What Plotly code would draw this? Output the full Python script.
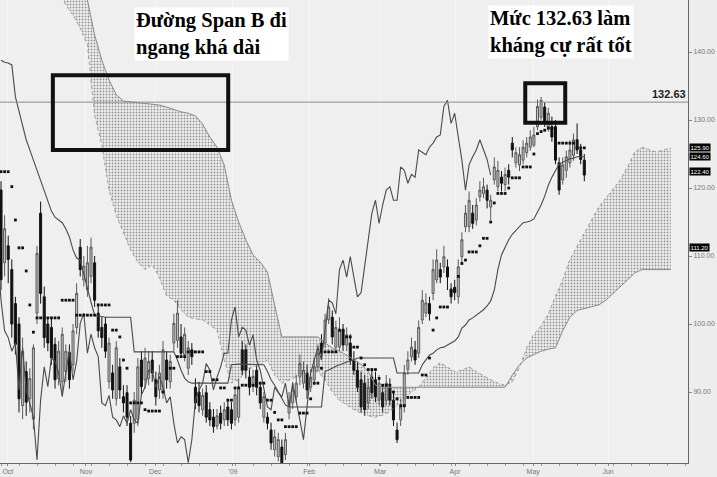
import plotly.graph_objects as go

# ---------------- data ----------------
# candle index 0 = last days of Sep 2008, one step per trading day
month_ticks = [1.9, 23.6, 42.8, 64.4, 85.6, 105.3, 126.1, 147.8, 168.6]
month_labels = ["Oct", "Nov", "Dec", "'09", "Feb", "Mar", "Apr", "May", "Jun"]
price_ticks = [90, 100, 110, 120, 130, 140]

opens = [119.7, 109, 111.5, 108, 103, 100, 88, 93, 89, 86,
         101.6, 116.3, 104, 100, 99.5, 97, 92, 91.5, 93, 95.8,
         94, 99.5, 111.3, 106.5, 105, 107, 109, 101.6, 99.5, 100,
         91.5, 92.8, 89, 93.7, 89.3, 89.9, 85.4, 85.4, 86, 94.7,
         91.8, 92, 94.7, 91.8, 90.3, 89.9, 94.7, 91.5, 97.2, 97.6,
         98.1, 95.5, 93.5, 96.2, 90.7, 90, 87.4, 89.9, 87.4, 86.3,
         85, 86.9, 85.9, 87.8, 87.4, 85.9, 86.3, 96.2, 96.2, 92.2,
         90.8, 93.2, 90.7, 86.3, 86.3, 84.4, 81.5, 80.5, 81.9, 80.8,
         86.9, 88.4, 89.3, 92.2, 91.3, 92.8, 90.7, 91.8, 93.7, 97.2,
         97.2, 100.6, 101, 96.6, 96.6, 99.1, 96.9, 97.2, 94.7, 93.2,
         91.8, 91.3, 88.4, 92.2, 91.8, 88.8, 89.9, 88.8, 90.7, 88.8,
         84.4, 85.9, 87.8, 93.3, 95.2, 96.2, 95.7, 100.6, 101.6, 103,
         104.5, 106.5, 108, 108.4, 108.4, 105, 105.4, 104, 109.9, 114.3,
         114.3, 116.3, 115.3, 118.7, 119.2, 119.7, 117.2, 121.2, 120.2, 121.6,
         120.5, 122.6, 126.6, 123.7, 123.4, 124.1, 125.2, 126, 126.3, 129,
         130.4, 131.9, 129, 129, 129, 123.7, 121.2, 122.6, 123.7, 124.8,
         127.1, 125.6, 124.1]
highs = [121, 116, 113, 109.5, 104, 101, 98, 94.5, 93.5, 97,
         111.5, 118, 105.5, 101, 101, 98, 97.5, 99.5, 97, 97,
         100, 106, 112.5, 110, 111.5, 112.7, 110, 103, 101, 101,
         98, 94, 97.5, 95, 91, 91, 86.5, 90, 95, 96,
         96.5, 96, 96, 93, 94, 97.5, 96, 95.5, 101.5, 103.5,
         100, 99.5, 97.5, 97.2, 92, 91.5, 90.5, 91, 88.5, 87.5,
         87.5, 88, 88.5, 89, 88.5, 90.5, 92, 97.5, 97, 93.5,
         93.3, 94, 91.5, 90, 87, 85.5, 84.5, 84, 83, 84,
         90, 91.5, 92.5, 95.5, 94.5, 94, 93.3, 95, 97, 98.5,
         101.5, 103.8, 102, 100.5, 101, 100, 99.5, 98.5, 96, 94.5,
         93, 92.5, 92, 93.5, 93, 92.5, 91, 92.5, 92, 90,
         85.5, 89, 94, 96, 98, 97.5, 100.5, 105, 104.5, 104,
         109.5, 111, 109, 111.5, 109.5, 106, 106.5, 109.5, 113.5, 117.5,
         119.5, 117.5, 118.5, 121, 121.5, 120.5, 119, 124.5, 124, 122.5,
         123, 123.5, 127.5, 126, 126, 127, 127.5, 128.5, 129, 133,
         133.4, 132.6, 131.8, 130.5, 130, 124.5, 124.5, 125.5, 127, 128,
         129.5, 126.5, 125]
lows = [105, 107, 106, 98, 95.5, 87, 86, 86.5, 87, 84.5,
        100, 103, 96.5, 96, 94, 90.5, 91, 90, 91.5, 90.5,
        93, 98.5, 107, 105.5, 104, 106, 102.5, 98, 96.5, 95,
        90.5, 89, 88, 89, 87, 85, 79.7, 84, 85, 89.5,
        90.5, 91, 91.5, 88, 89, 89, 90.5, 90.5, 96, 96.5,
        95, 94.5, 92.5, 94, 87.5, 87, 86.5, 85.5, 85, 84,
        84.5, 84.5, 85, 85, 84.5, 85, 85.5, 92.5, 92, 89.5,
        90, 89.5, 87.5, 85.5, 84.5, 81.5, 80.5, 79.8, 79.6, 80,
        86, 87.5, 88.5, 91, 90.5, 89, 90, 91, 93, 95,
        96.5, 100, 97, 96, 96, 96, 96, 94, 92.5, 90,
        87, 86.5, 87.5, 89, 88.5, 88, 87, 88, 88, 85,
        82.5, 85, 87, 92.5, 94.5, 94, 95, 100, 101, 100.5,
        103.5, 106, 106, 107.5, 105, 103, 103.5, 103, 109, 113.5,
        113.5, 114, 114.5, 118, 118.5, 117, 115.3, 120.5, 119.5, 119.5,
        119.5, 120.5, 124.5, 123, 122.5, 123.5, 124.5, 125.5, 126, 128.5,
        130, 129, 128.3, 126.8, 123.5, 119, 120.5, 121.5, 123, 124,
        125, 123.5, 121]
closes = [106.5, 114, 109.5, 100, 97, 89, 96, 88.5, 92, 96.5,
          110.4, 104.5, 98, 97.2, 95, 91.8, 96, 98.5, 96, 91.8,
          99, 104.5, 108, 108.5, 109, 111.3, 103.5, 99, 98, 96,
          97.2, 90.3, 96.5, 90.3, 88.4, 86.3, 80, 88.8, 93.7, 90.8,
          95, 94.5, 92.8, 89.3, 92.8, 96.2, 91.8, 94.5, 100.1, 101.6,
          95.7, 98.5, 96.5, 95.2, 88.4, 88, 89.5, 86.3, 85.9, 84.9,
          86.5, 85.4, 87.4, 85.9, 85.4, 89.6, 90.7, 93.2, 93.2, 90.7,
          92.3, 90.7, 88.4, 89.3, 85.4, 82.5, 83.4, 83, 79.6, 83,
          88.8, 90.3, 91.3, 94.2, 93.2, 90.3, 92.2, 93.7, 95.7, 95.7,
          100.6, 102.5, 98.1, 99.5, 99.1, 96.9, 98.4, 94.7, 93.2, 90.7,
          87.8, 87.4, 90.7, 89.9, 89.3, 91.3, 87.8, 91.3, 88.8, 85.9,
          83, 87.8, 92.8, 94.7, 96.6, 94.7, 99.5, 103.5, 103.1, 101.5,
          108, 109.4, 106.9, 109.9, 106.9, 104, 104.6, 108.4, 112.4, 116.3,
          118.2, 114.8, 117.5, 119.7, 120.2, 118.2, 118.2, 123.1, 122.6, 120.7,
          122, 121.6, 125.6, 125.2, 124.9, 126, 126.6, 127.5, 127.8, 132,
          132.9, 129.5, 131, 127.5, 124.1, 119.7, 123.4, 124.6, 125.6, 127.1,
          125.6, 124.2, 121.9]

tenkan = [122.4, 122.4, 122.4, 120.2, 115.3, 111.2, 111.2, 107.8, 102.8, 98.8,
          100.9, 100.9, 100.9, 100.9, 100.9, 100.9, 100.9, 103.5, 103.5, 103.5,
          103.5, 101.3, 101.3, 101.3, 101.3, 101.3, 101.3, 102.8, 102.8, 102.8,
          102.8, 99.1, 99.1, 98.1, 94.7, 93.5, 88.4, 88.4, 88.4, 88.4,
          87.4, 87.2, 87.2, 87.2, 87.2, 90, 93.5, 93.5, 93.5, 95.2,
          95.2, 95.2, 95.9, 95.9, 95.9, 95.9, 95.9, 93, 93, 91.8,
          91.8, 90.6, 90.6, 88.8, 88.8, 90.6, 90.6, 91, 91, 91,
          91, 91.3, 91.3, 91.3, 88.8, 88.8, 87, 85.9, 85.9, 84.9,
          84.9, 84.9, 84.9, 86.9, 86.9, 86.9, 89, 91.3, 91.3, 93.5,
          95.9, 95.9, 95.9, 95.9, 99.1, 99.1, 98.1, 98.1, 96.6, 96.6,
          95, 94, 93.3, 93.3, 93.3, 92, 91, 91, 91, 90,
          89, 88, 88, 89.2, 89.2, 89.2, 89.2, 92.5, 92.5, 95,
          99.1, 100.9, 102.5, 102.5, 102.5, 105, 105, 107, 108.9, 109.4,
          110.6, 110.6, 110.6, 111.5, 112.6, 112.6, 115, 117.8, 119.2, 119.2,
          119.2, 120, 121.5, 121.5, 121.5, 123.1, 123.1, 123.1, 125, 128,
          128.3, 128.5, 128.8, 128.8, 128.8, 126.6, 126.6, 126.6, 126.6, 126.6,
          125.9, 125.9, 125.9]

kijun = [138.8, 138.5, 138.4, 138.1, 133.4, 131.2, 129.0, 127.1, 125.6, 124.1,
         122.4, 120.9, 119.7, 118.2, 116.6, 115.7, 115.3, 114.9, 114.0, 112.8,
         110.9, 109.7, 109.4, 107.2, 105.0, 103.2, 101.3, 101.2, 101.0, 101.0,
         101.0, 101.0, 101.0, 101.0, 101.0, 101.0, 101.0, 95.9, 95.9, 95.9,
         95.9, 95.9, 95.9, 95.9, 95.9, 95.9, 95.9, 95.9, 95.9, 94.7,
         93.2, 92.05, 91.5, 91.3, 91.3, 91.3, 91.3, 91.3, 91.3, 91.3,
         91.3, 91.3, 91.3, 91.3, 94.0, 94.1, 94.1, 94.1, 94.1, 94.1,
         94.1, 94.1, 94.1, 94.0, 93.0, 91.8, 91.0, 90.0, 89.1, 88.1,
         87.8, 87.8, 87.8, 87.8, 87.8, 87.8, 87.8, 87.8, 87.8, 87.8,
         93.0, 93.2, 93.5, 93.8, 94.0, 94.3, 94.4, 94.6, 94.7, 95.0,
         95.0, 95.0, 95.0, 95.0, 95.0, 95.0, 95.0, 95.0, 95.0, 95.0,
         92.8, 92.8, 92.8, 92.8, 92.8, 92.8, 92.8, 94.0, 94.7, 95.45,
         95.7, 96.2, 96.5, 96.6, 96.9, 97.2, 97.5, 98.1, 99.4, 99.85,
         100.6, 100.9, 101.3, 101.6, 102.1, 102.65, 103.4, 105.0, 108.0, 110.15,
         111.2, 112.4, 113.2, 113.8, 114.4, 114.9, 115.0, 115.15, 115.45, 116.5,
         117.5, 118.8, 120.4, 121.6, 122.6, 123.5, 123.8, 124.1, 124.3, 124.4,
         124.6, 124.6, 124.6]

chikou_shift = 26

cloud_x = [0, 2, 4, 6, 8, 10, 12, 14, 16, 18,
           20, 22, 24, 26, 28, 30, 32, 34, 36, 38,
           40, 42, 44, 46, 48, 50, 52, 54, 56, 58,
           60, 62, 64, 66, 68, 70, 72, 74, 76, 78,
           80, 82, 84, 86, 88, 90, 92, 94, 96, 98,
           100, 102, 104, 106, 108, 110, 112, 114, 116, 118,
           120, 122, 124, 126, 128, 130, 132, 134, 136, 138,
           140, 142, 144, 146, 148, 150, 152, 154, 156, 158,
           160, 162, 164, 166, 168, 170, 172, 174, 176, 178,
           180, 182, 184, 186]
span_b = [160.9, 160.2, 159.4, 158.7, 157.9, 156.5, 155.0, 153.5, 152.1, 150.6,
          149.9, 148.8, 147.65, 142.5, 138.8, 135.9, 133.7, 132.8, 132.7, 132.5,
          132.5, 132.4, 132.2, 131.9, 131.5, 131.2, 131.0, 130.6, 129.4, 127.5,
          126.0, 123.4, 118.2, 115.0, 112.4, 110.15, 109.1, 107.65, 102.8, 98.1,
          98.1, 98.1, 98.1, 98.1, 98.1, 97.2, 96.5, 96.0, 95.45, 94.7,
          94.1, 93.0, 91.0, 90.7, 90.7, 90.7, 90.7, 90.7, 90.7, 90.7,
          90.7, 90.7, 90.7, 90.7, 90.7, 90.7, 90.7, 90.7, 90.7, 90.7,
          90.7, 92.5, 94.0, 95.0, 95.5, 96.0, 96.3, 96.5, 99.0, 101.0,
          102.0, 102.3, 102.5, 102.8, 103.5, 104.5, 105.5, 106.5, 107.5, 108.0,
          108.0, 108.0, 108.0, 108.0]
span_a = [156.5, 155.7, 155.0, 154.3, 153.5, 152.5, 151.6, 150.6, 148.8, 146.9,
          145.4, 143.5, 141.0, 130.7, 126.3, 119.7, 116.0, 113.4, 110.9, 109.1,
          108.0, 108.7, 106.8, 104.1, 103.5, 102.1, 101.0, 100.75, 100.6, 99.85,
          99.1, 94.7, 91.3, 91.8, 93.0, 93.7, 94.0, 94.7, 92.5, 91.3,
          91.8, 92.2, 92.5, 93.0, 93.0, 91.8, 90.0, 88.8, 88.1, 87.4,
          86.9, 86.5, 86.3, 86.6, 87.1, 88.1, 89.1, 90.0, 90.7, 92.05,
          93.55, 94.3, 93.7, 93.0, 93.2, 93.7, 93.0, 92.35, 91.8, 91.3,
          91.0, 91.5, 93.6, 96.5, 98.5, 99.7, 101.5, 104.1, 106.5, 109.5,
          111.5, 113.3, 115.3, 117.2, 118.5, 119.8, 121.2, 123.1, 125.3, 126.0,
          125.6, 125.3, 125.6, 125.9]

resistance = 132.63
last_labels = [125.90, 124.60, 122.40, 111.20]

# ---------------- figure ----------------
n = len(closes)
idx = list(range(n))
chikou_x = [i - chikou_shift for i in idx]

fig = go.Figure()

fig.add_trace(go.Scatter(x=cloud_x, y=span_b, mode="lines",
                         line=dict(color="#8a8a8a", width=1),
                         hoverinfo="skip"))
fig.add_trace(go.Scatter(x=cloud_x, y=span_a, mode="lines",
                         line=dict(color="#8a8a8a", width=0.8, dash="dot"),
                         fill="tonexty", fillcolor="rgba(0,0,0,0)",
                         fillpattern=dict(shape=".", fgcolor="#3a3a3a",
                                          bgcolor="rgba(0,0,0,0)",
                                          size=3, solidity=0.32),
                         hoverinfo="skip"))
fig.add_trace(go.Scatter(x=idx, y=kijun, mode="lines",
                         line=dict(color="#4a4a4a", width=1.1)))
fig.add_trace(go.Scatter(x=chikou_x, y=closes, mode="lines",
                         line=dict(color="#4a4a4a", width=1.1)))
fig.add_trace(go.Candlestick(x=idx, open=opens, high=highs, low=lows, close=closes,
                             increasing=dict(line=dict(color="#5a5a5a", width=1),
                                             fillcolor="#c4c4c4"),
                             decreasing=dict(line=dict(color="#111111", width=1),
                                             fillcolor="#111111"),
                             whiskerwidth=0))
fig.add_trace(go.Scatter(x=idx, y=tenkan, mode="markers",
                         marker=dict(symbol="square", size=2.8, color="#111111")))

# resistance line and its label
fig.add_shape(type="line", xref="paper", yref="y", x0=0, x1=1,
              y0=resistance, y1=resistance, line=dict(color="#8c8c8c", width=1))
fig.add_annotation(xref="paper", yref="y", x=1, y=resistance, xanchor="right",
                   yanchor="bottom", text="<b>%.2f</b>" % resistance, showarrow=False,
                   font=dict(family="Liberation Sans", size=11, color="#222"))

# highlight boxes
fig.add_shape(type="rect", xref="x", yref="y", x0=14.4, x1=63.1, y0=125.6, y1=136.6,
              line=dict(color="#111", width=4))
fig.add_shape(type="rect", xref="x", yref="y", x0=145.6, x1=156.7, y0=129.6, y1=135.4,
              line=dict(color="#111", width=4))

# callout texts
fig.add_annotation(xref="paper", yref="paper", x=134 / 688, y=1 - 7 / 463,
                   xanchor="left", yanchor="top", align="left", showarrow=False,
                   text="<b>Đường Span B đi<br>ngang khá dài</b>",
                   font=dict(family="Liberation Serif", size=20.5, color="#000"),
                   bgcolor="#ffffff", borderpad=1)
fig.add_annotation(xref="paper", yref="paper", x=488 / 688, y=1 - 5 / 463,
                   xanchor="left", yanchor="top", align="left", showarrow=False,
                   text="<b>Mức 132.63 làm<br>kháng cự rất tốt</b>",
                   font=dict(family="Liberation Serif", size=20.5, color="#000"),
                   bgcolor="#ffffff", borderpad=1)

# last-value tags on the price axis
for v in last_labels:
    fig.add_annotation(xref="paper", yref="y", x=1.002, y=v, xanchor="left",
                       yanchor="middle", text="%.2f" % v, showarrow=False,
                       font=dict(family="Liberation Sans", size=6, color="#fff"),
                       bgcolor="#000", borderpad=0.5)

fig.update_layout(
    width=717, height=477,
    margin=dict(l=0, r=29, t=0, b=14),
    paper_bgcolor="#ededed", plot_bgcolor="#efefef",
    showlegend=False, boxgap=0.2,
    font=dict(family="Liberation Sans", size=7, color="#777"),
    xaxis=dict(range=[-0.28, 190.8], tickvals=month_ticks, ticktext=month_labels,
               showgrid=True, gridcolor="#f6f6f6", gridwidth=1,
               zeroline=False, showline=True, linecolor="#666",
               linewidth=1, ticks="outside", ticklen=2, tickcolor="#888",
               ticklabelstandoff=0, automargin=False,
               tickfont=dict(size=7, color="#777"), rangeslider=dict(visible=False),
               minor=dict(ticks="outside", ticklen=2, tickcolor="#999", dtick=5,
                          showgrid=False)),
    yaxis=dict(range=[79.56, 147.65], side="right", tickvals=price_ticks,
               tickformat=".2f", showgrid=False, zeroline=False, showline=True,
               linecolor="#666", linewidth=1, ticks="outside", ticklen=3,
               automargin=False,
               tickcolor="#888", tickfont=dict(size=7, color="#777")),
)

fig.write_html("out.html", config={"displayModeBar": False},
               post_script="document.body.style.margin='0px';document.body.style.overflow='hidden';")
